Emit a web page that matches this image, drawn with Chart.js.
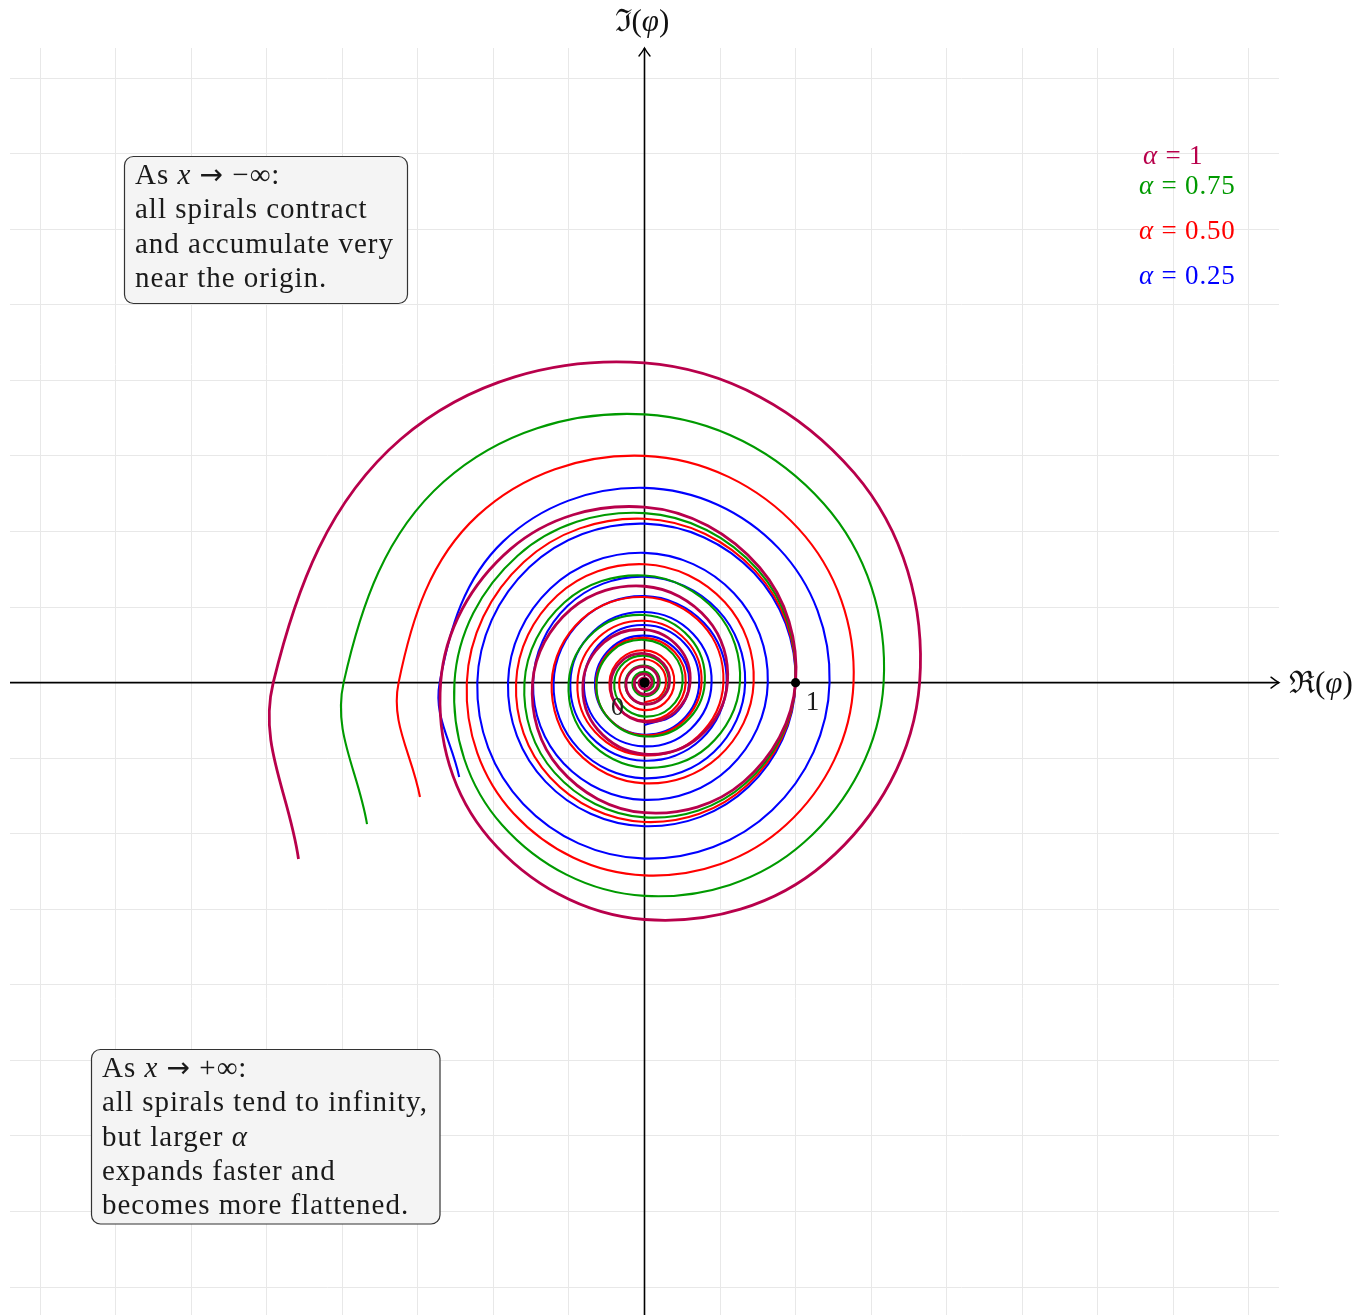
<!DOCTYPE html>
<html>
<head>
<meta charset="utf-8">
<script src="https://cdn.jsdelivr.net/npm/chart.js@4.4.0/dist/chart.umd.min.js"></script>
<style>
  html, body { margin: 0; padding: 0; background: #fff; }
  #wrap { width: 1359px; height: 1315px; }
</style>
</head>
<body>
<div id="wrap"><canvas id="spiralChart" width="1359" height="1315"></canvas></div>
<script>
const angles = [
  -2250, -2205, -2160, -2115, -2070, -2025, -1980, -1935, -1890, -1845, -1800, -1755,
  -1710, -1665, -1620, -1575, -1530, -1485, -1440, -1395, -1350, -1305, -1260, -1215,
  -1170, -1125, -1080, -1035, -990, -945, -900, -855, -810, -765, -720, -675,
  -630, -585, -540, -495, -450, -405, -360, -315, -270, -225, -180, -135,
  -90, -45, 0, 45, 90, 135, 180, 225, 270, 315, 360, 405,
  450, 495, 540, 567
];

const seriesLabels = ['α = 1', 'α = 0.75', 'α = 0.50', 'α = 0.25'];

// distance from the origin |φ| at each angle above
const radiusA100 = [
  0.0236, 0.0254, 0.0274, 0.0295, 0.0318, 0.0343, 0.0370, 0.0399, 0.0430, 0.0463, 0.0499, 0.0538,
  0.0580, 0.0625, 0.0674, 0.0726, 0.0783, 0.0844, 0.0909, 0.0980, 0.1056, 0.1139, 0.1227, 0.1323,
  0.1425, 0.1536, 0.1656, 0.1785, 0.1923, 0.2073, 0.2234, 0.2408, 0.2596, 0.2798, 0.3015, 0.3250,
  0.3503, 0.3775, 0.4069, 0.4386, 0.4727, 0.5095, 0.5491, 0.5918, 0.6379, 0.6876, 0.7410, 0.7987,
  0.8608, 0.9278, 1.0000, 1.0778, 1.1617, 1.2521, 1.3495, 1.4545, 1.5677, 1.6896, 1.8211, 1.9628,
  2.1155, 2.2801, 2.4576, 2.5705
];
const radiusA075 = [
  0.0567, 0.0600, 0.0636, 0.0673, 0.0713, 0.0755, 0.0800, 0.0847, 0.0897, 0.0950, 0.1006, 0.1066,
  0.1129, 0.1195, 0.1266, 0.1341, 0.1420, 0.1504, 0.1593, 0.1687, 0.1786, 0.1892, 0.2004, 0.2122,
  0.2248, 0.2380, 0.2521, 0.2670, 0.2828, 0.2995, 0.3172, 0.3360, 0.3558, 0.3768, 0.3991, 0.4227,
  0.4477, 0.4741, 0.5021, 0.5318, 0.5632, 0.5965, 0.6317, 0.6691, 0.7086, 0.7504, 0.7948, 0.8418,
  0.8916, 0.9442, 1.0000, 1.0591, 1.1217, 1.1879, 1.2581, 1.3325, 1.4113, 1.4947, 1.5830, 1.6765,
  1.7756, 1.8804, 1.9916, 2.0615
];
const radiusA050 = [
  0.1314, 0.1368, 0.1425, 0.1484, 0.1545, 0.1609, 0.1676, 0.1745, 0.1818, 0.1893, 0.1971, 0.2053,
  0.2138, 0.2227, 0.2319, 0.2415, 0.2516, 0.2619, 0.2728, 0.2841, 0.2959, 0.3082, 0.3209, 0.3342,
  0.3481, 0.3625, 0.3775, 0.3931, 0.4094, 0.4263, 0.4440, 0.4624, 0.4816, 0.5015, 0.5223, 0.5439,
  0.5665, 0.5899, 0.6144, 0.6398, 0.6664, 0.6939, 0.7226, 0.7526, 0.7838, 0.8163, 0.8501, 0.8853,
  0.9220, 0.9602, 1.0000, 1.0414, 1.0846, 1.1295, 1.1763, 1.2251, 1.2758, 1.3287, 1.3838, 1.4411,
  1.5007, 1.5630, 1.6277, 1.6680
];
const radiusA025 = [
  0.2812, 0.2884, 0.2958, 0.3034, 0.3112, 0.3192, 0.3274, 0.3358, 0.3445, 0.3533, 0.3624, 0.3717,
  0.3813, 0.3911, 0.4011, 0.4115, 0.4220, 0.4329, 0.4440, 0.4554, 0.4671, 0.4791, 0.4914, 0.5040,
  0.5170, 0.5303, 0.5439, 0.5579, 0.5722, 0.5870, 0.6020, 0.6175, 0.6334, 0.6496, 0.6663, 0.6834,
  0.7011, 0.7191, 0.7375, 0.7565, 0.7759, 0.7959, 0.8163, 0.8373, 0.8588, 0.8808, 0.9035, 0.9267,
  0.9506, 0.9750, 1.0000, 1.0257, 1.0520, 1.0791, 1.1068, 1.1353, 1.1644, 1.1943, 1.2250, 1.2565,
  1.2888, 1.3220, 1.3559, 1.3766
];

// grid lines, every 0.5
const gridTicks = [-4, -3.5, -3, -2.5, -2, -1.5, -1, -0.5, 0, 0.5, 1, 1.5, 2, 2.5, 3, 3.5, 4];

// marked points on the real axis
const markedPoints = [0, 1];

const ARROW = '"DejaVu Sans", sans-serif';
const topNote = [
  [{ t: 'As ' }, { t: 'x', i: true }, { t: ' ' }, { t: '→', f: ARROW, s: 28 }, { t: ' −∞:' }],
  [{ t: 'all spirals contract' }],
  [{ t: 'and accumulate very' }],
  [{ t: 'near the origin.' }]
];
const bottomNote = [
  [{ t: 'As ' }, { t: 'x', i: true }, { t: ' ' }, { t: '→', f: ARROW, s: 28 }, { t: ' +∞:' }],
  [{ t: 'all spirals tend to infinity,' }],
  [{ t: 'but larger ' }, { t: 'α', i: true }],
  [{ t: 'expands faster and' }],
  [{ t: 'becomes more flattened.' }]
];

const colors = ['#b8004b', '#009a00', '#ff0000', '#0000ff'];
const FONT = '"Liberation Serif", "DejaVu Serif", serif';

function toPoints(radii) {
  return radii.map((r, i) => {
    const a = angles[i] * Math.PI / 180;
    return { x: r * Math.cos(a), y: r * Math.sin(a) };
  });
}

function setFont(ctx, size, italic, family) {
  ctx.font = (italic ? 'italic ' : '') + size + 'px ' + (family || FONT);
}

function drawRuns(ctx, x, y, runs, size, color) {
  ctx.fillStyle = color;
  ctx.textAlign = 'left';
  ctx.textBaseline = 'alphabetic';
  let cx = x;
  runs.forEach(run => {
    setFont(ctx, run.s || size, run.i, run.f);
    ctx.fillText(run.t, cx, y);
    cx += ctx.measureText(run.t).width;
  });
}

function roundBox(ctx, x, y, w, h, r) {
  ctx.beginPath();
  ctx.moveTo(x + r, y);
  ctx.arcTo(x + w, y, x + w, y + h, r);
  ctx.arcTo(x + w, y + h, x, y + h, r);
  ctx.arcTo(x, y + h, x, y, r);
  ctx.arcTo(x, y, x + w, y, r);
  ctx.closePath();
}

function arrowTip(ctx, tx, ty, ang) {
  ctx.save();
  ctx.translate(tx, ty);
  ctx.rotate(ang);
  ctx.strokeStyle = '#000';
  ctx.lineWidth = 1.4;
  ctx.lineCap = 'round';
  ctx.beginPath();
  ctx.moveTo(-8, -5.5);
  ctx.quadraticCurveTo(-3, -1.5, 0, 0);
  ctx.quadraticCurveTo(-3, 1.5, -8, 5.5);
  ctx.stroke();
  ctx.restore();
}

function drawNote(ctx, lines, bx, by, bw, bh, tx, ty0) {
  roundBox(ctx, bx, by, bw, bh, 9);
  ctx.fillStyle = '#f4f4f4';
  ctx.fill();
  ctx.strokeStyle = '#333';
  ctx.lineWidth = 1.2;
  ctx.stroke();
  ctx.letterSpacing = '1px';
  lines.forEach((runs, k) => drawRuns(ctx, tx, ty0 + k * 34.3, runs, 29, '#1a1a1a'));
  ctx.letterSpacing = '0px';
}

const decor = {
  id: 'decor',
  beforeDatasetsDraw(chart) {
    const { ctx, chartArea: a, scales: { x, y } } = chart;
    const ox = x.getPixelForValue(0), oy = y.getPixelForValue(0);
    ctx.save();
    ctx.strokeStyle = '#000';
    ctx.lineWidth = 1.6;
    ctx.beginPath();
    ctx.moveTo(a.left, oy); ctx.lineTo(a.right, oy);
    ctx.moveTo(ox, a.bottom); ctx.lineTo(ox, a.top);
    ctx.stroke();
    arrowTip(ctx, a.right, oy, 0);
    arrowTip(ctx, ox, a.top, -Math.PI / 2);
    ctx.restore();
  },
  afterDatasetsDraw(chart) {
    const { ctx, chartArea: a, scales: { x, y } } = chart;
    const ox = x.getPixelForValue(0), oy = y.getPixelForValue(0);
    ctx.save();
    // label of the origin
    setFont(ctx, 26, false);
    ctx.fillStyle = '#222';
    ctx.textAlign = 'center';
    ctx.textBaseline = 'middle';
    ctx.fillText(String(markedPoints[0]), ox - 27, oy + 26);

    // marked points
    ctx.fillStyle = '#000';
    markedPoints.forEach((v, k) => {
      ctx.beginPath();
      ctx.arc(x.getPixelForValue(v), oy, k === 0 ? 5 : 4.6, 0, Math.PI * 2);
      ctx.fill();
    });
    setFont(ctx, 27, false);
    ctx.fillStyle = '#1a1a1a';
    ctx.fillText(String(markedPoints[1]), x.getPixelForValue(1) + 17, oy + 20);

    // axis titles
    drawRuns(ctx, a.right + 10, oy + 10, [{ t: 'ℜ(' }, { t: 'φ', i: true }, { t: ')' }], 31, '#111');
    drawRuns(ctx, ox - 30, 31, [{ t: 'ℑ(' }, { t: 'φ', i: true }, { t: ')' }], 31, '#111');

    // legend
    const legendPos = [[1143, 164], [1139, 194], [1139, 239], [1139, 284]];
    ctx.letterSpacing = '0.8px';
    seriesLabels.forEach((lab, k) => {
      drawRuns(ctx, legendPos[k][0], legendPos[k][1],
        [{ t: lab.slice(0, 1), i: true }, { t: lab.slice(1) }], 27, colors[k]);
    });
    ctx.letterSpacing = '0px';

    // notes
    drawNote(ctx, topNote, 124.5, 156.5, 283, 147, 135, 184);
    drawNote(ctx, bottomNote, 91.5, 1049.5, 348.5, 174.5, 102, 1077);
    ctx.restore();
  }
};

const radii = [radiusA100, radiusA075, radiusA050, radiusA025];
const datasets = radii.map((r, k) => ({
  label: seriesLabels[k],
  data: toPoints(r),
  showLine: true,
  borderColor: colors[k],
  backgroundColor: colors[k],
  borderWidth: k === 0 ? 2.8 : 2.1,
  pointRadius: 0,
  tension: 0.375,
  fill: false
}));

function gridOnly(scale) {
  scale.ticks = gridTicks.map(v => ({ value: v }));
}

new Chart(document.getElementById('spiralChart').getContext('2d'), {
  type: 'scatter',
  data: { datasets: datasets },
  options: {
    responsive: false,
    devicePixelRatio: 1,
    animation: false,
    layout: { padding: { left: 10, right: 80, top: 48, bottom: 0 } },
    plugins: { legend: { display: false }, tooltip: { enabled: false } },
    scales: {
      x: {
        type: 'linear', min: -4.2, max: 4.2,
        afterBuildTicks: gridOnly,
        ticks: { display: false },
        grid: { color: '#e8e8e8', lineWidth: 1, drawTicks: false },
        border: { display: false }
      },
      y: {
        type: 'linear', min: -4.185, max: 4.2,
        afterBuildTicks: gridOnly,
        ticks: { display: false },
        grid: { color: '#e8e8e8', lineWidth: 1, drawTicks: false },
        border: { display: false }
      }
    }
  },
  plugins: [decor]
});
</script>
</body>
</html>
